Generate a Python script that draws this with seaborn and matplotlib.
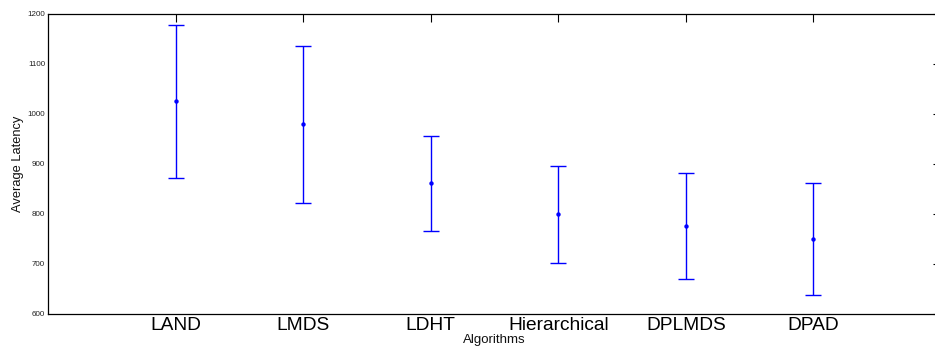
import numpy as np
import pandas as pd
import seaborn as sns
import matplotlib.pyplot as plt

# Values
algorithms = ['LAND', 'LMDS', 'LDHT', 'Hierarchical', 'DPLMDS', 'DPAD']
mean_latency = [1026, 980, 862, 800, 777, 750]
latency_err = [153, 157, 95, 97, 106, 112]

df = pd.DataFrame({'Algorithms': algorithms, 'Average Latency': mean_latency, 'err': latency_err})

sns.set_theme(style='white')
plt.rcParams['font.family'] = ['Liberation Sans', 'DejaVu Sans']

fig = plt.figure(figsize=(9.35, 3.47), dpi=100)
ax = fig.add_axes([48 / 935, 1 - 314 / 347, 893 / 935, 300 / 347])

# error bars first, then the mean points on top
ax.errorbar(df['Algorithms'], df['Average Latency'], yerr=df['err'], fmt='none',
            ecolor='#0000ff', elinewidth=1.0, capsize=5.5, capthick=1.0)
sns.scatterplot(data=df, x='Algorithms', y='Average Latency', ax=ax, color='#0000ff',
                marker='o', s=10, edgecolor='#0000ff', linewidth=0, zorder=3)

ax.set_xlim(-1, len(algorithms))
ax.set_ylim(600, 1200)
ax.set_yticks(np.arange(600, 1201, 100))

for s in ax.spines.values():
    s.set_color('black')
    s.set_linewidth(0.9)

ax.tick_params(axis='both', direction='in', top=True, right=True, length=6, width=0.8, color='black')
ax.tick_params(axis='x', labelsize=13.8, pad=2, labelcolor='black')
ax.tick_params(axis='y', labelsize=5.8, pad=2, labelcolor='#222222')

ax.set_xlabel('Algorithms', fontsize=9.5, color='#111111')
ax.set_ylabel('Average Latency', fontsize=9.3, color='#111111')
ax.xaxis.set_label_coords(0.5, -0.068)
ax.yaxis.set_label_coords(-0.027, 0.5)

plt.savefig('out.png', dpi=100)
